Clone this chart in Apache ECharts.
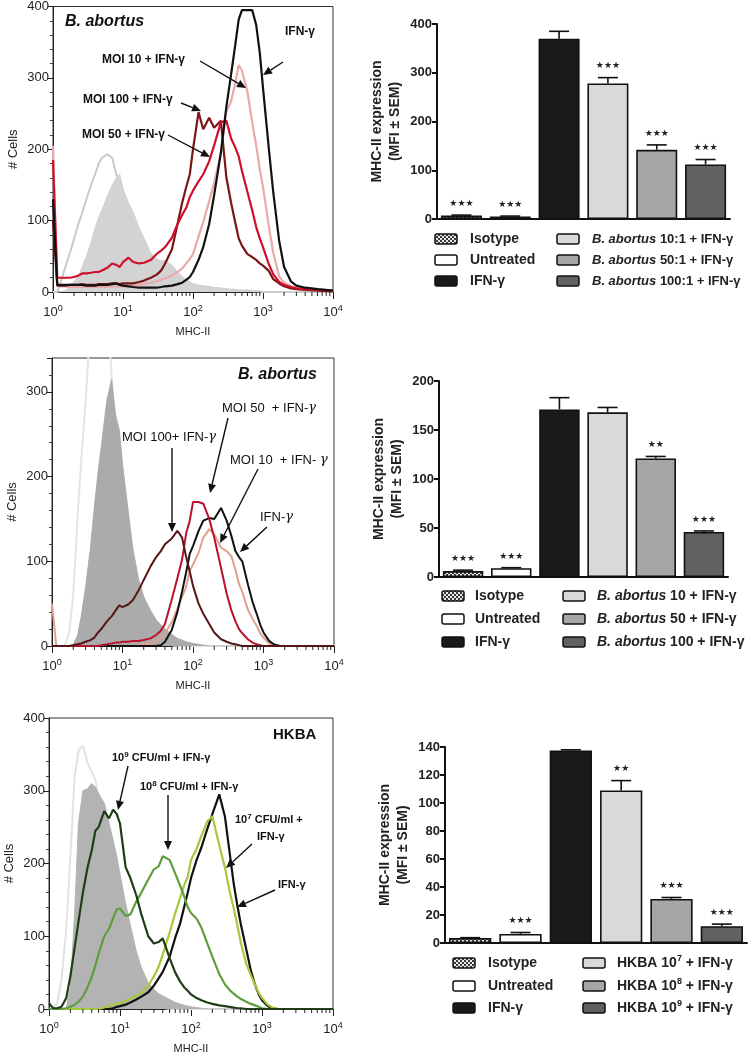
<!DOCTYPE html>
<html><head><meta charset="utf-8">
<script src="https://cdn.jsdelivr.net/npm/echarts@6/dist/echarts.min.js"></script>
<style>html,body{margin:0;padding:0;background:#fff}#c{width:750px;height:1055px}</style>
</head><body><div id="c"></div>
<script>
// ---------- Histogram data (MHC-II channel values, # cells) ----------
const X = [1,1.15,1.3,1.5,1.75,2,2.3,2.6,3,3.5,4,4.5,5,6,7,8,9,10,12,14,17,20,25,30,35,40,50,60,70,80,90,100,120,140,170,200,250,300,350,400,450,500,600,700,800,900,1000,1200,1400,1700,2000,2500,3000,4000,6000,10000];

// Panel 1 : B. abortus (MOI 10/50/100)
const h1Unst = [0,0,15,35,55,75,95,110,130,150,165,180,188,193,188,165,155,135,112,100,80,68,52,44,40,37,32,25,20,16,13,11,9,8,7,6,5,4,3,3,2,2,2,1,1,1,0,0,0,0,0,0,0,0,0,0];
const h1Iso  = [0,0,0,2,8,15,22,35,50,70,90,105,115,135,150,160,165,145,125,112,90,75,55,47,44,44,38,28,22,16,13,11,9,8,7,6,5,4,3,3,2,2,1,1,0,0,0,0,0,0,0,0,0,0,0,0];
const h1M10  = [205,10,8,8,7,7,7,7,7,7,7,7,7,7,8,8,8,8,8,9,10,11,13,15,17,19,23,28,33,40,46,53,78,98,127,152,195,253,267,292,318,310,280,238,205,172,147,95,55,22,13,8,6,5,4,2];
const h1M50  = [185,20,20,20,20,21,23,26,26,27,28,28,30,34,40,38,35,42,48,42,40,41,45,53,58,63,76,95,108,118,133,142,155,165,183,205,238,240,215,203,190,170,140,115,91,75,63,40,25,14,10,7,5,4,3,2];
const h1M100 = [100,9,9,9,10,10,10,11,10,10,10,11,11,11,12,12,11,12,12,12,14,16,20,24,30,40,60,95,125,147,165,200,252,228,244,230,240,160,125,98,75,65,53,49,45,40,37,30,18,12,8,5,4,3,2,1];
const h1Ifn  = [130,10,10,10,10,10,10,10,9,9,9,10,10,10,11,12,10,9,8,7,6,6,6,6,7,8,9,11,13,17,21,28,45,63,95,135,195,260,305,345,382,395,395,395,374,335,286,205,140,72,35,15,9,6,4,2];

// Panel 2 : B. abortus (MOI 10/50/100)
const h2Unst = [0,0,0,0,15,60,150,220,290,380,420,440,430,400,320,230,160,110,60,35,20,12,7,4,3,2,1,0,0,0,0,0,0,0,0,0,0,0,0,0,0,0,0,0,0,0,0,0,0,0,0,0,0,0,0,0];
const h2Iso  = [0,0,0,0,0,2,12,35,70,115,165,205,235,290,315,272,255,215,160,115,78,58,42,31,25,20,14,9,7,5,4,3,2,1,0,0,0,0,0,0,0,0,0,0,0,0,0,0,0,0,0,0,0,0,0,0];
const h2M10  = [50,0,0,0,0,0,0,0,0,0,0,0,0,0,0,0,0,0,0,0,1,2,3,6,9,15,28,44,58,70,89,96,110,128,138,132,116,112,106,90,73,64,43,32,24,15,10,3,1,0,0,0,0,0,0,0];
const h2M50  = [0,0,0,0,0,0,0,0,0,0,0,0,1,2,3,4,4,5,5,6,6,7,9,13,18,26,55,80,102,133,148,170,170,168,150,128,92,62,42,29,20,15,8,4,2,1,0,0,0,0,0,0,0,0,0,0];
const h2M100 = [0,0,0,0,0,1,2,3,5,7,10,16,20,29,35,42,48,46,49,54,66,78,94,105,112,120,127,136,128,105,88,71,50,38,26,16,8,5,3,2,1,0,0,0,0,0,0,0,0,0,0,0,0,0,0,0];
const h2Ifn  = [0,0,0,0,0,0,0,0,0,0,0,0,0,0,0,0,0,0,0,0,0,0,0,0,1,5,19,40,64,87,109,118,136,148,151,150,163,148,130,112,105,100,73,52,38,25,16,6,2,0,0,0,0,0,0,0];

// Panel 3 : HKBA (10^7/10^8/10^9 CFU/ml)
const h3Unst = [0,1,8,40,110,210,320,355,362,338,326,315,290,250,210,170,140,120,80,50,30,18,10,5,3,2,0,0,0,0,0,0,0,0,0,0,0,0,0,0,0,0,0,0,0,0,0,0,0,0,0,0,0,0,0,0];
const h3Iso  = [0,0,0,0,1,30,133,255,300,303,310,305,296,283,256,232,210,185,145,115,79,57,36,27,21,18,13,9,7,5,4,3,2,1,0,0,0,0,0,0,0,0,0,0,0,0,0,0,0,0,0,0,0,0,0,0];
const h3M7   = [0,0,0,0,0,0,0,0,0,0,0,0,0,2,4,6,7,8,11,14,18,22,32,45,58,75,105,132,152,170,182,205,220,238,258,265,225,195,162,138,115,92,62,46,33,22,15,6,2,0,0,0,0,0,0,0];
const h3M8   = [0,0,0,0,1,3,6,10,17,30,44,60,76,100,110,125,137,138,128,130,148,160,178,192,196,210,205,186,170,155,140,132,124,112,90,72,48,34,26,21,17,14,10,7,5,3,1,0,0,0,0,0,0,0,0,0];
const h3M9   = [8,1,1,3,15,45,85,120,160,195,218,245,250,272,262,274,268,255,195,180,156,130,100,90,92,97,70,50,38,30,25,20,15,12,9,7,5,4,3,2,1,1,0,0,0,0,0,0,0,0,0,0,0,0,0,0];
const h3Ifn  = [0,0,0,0,0,0,0,0,0,0,0,0,0,0,0,1,3,4,6,9,13,17,23,32,42,51,72,98,117,140,160,180,205,222,248,268,295,265,215,172,142,118,82,52,33,20,12,4,1,0,0,0,0,0,0,0];

// ---------- Bar chart data (MFI ± SEM) ----------
const barCats = ['Isotype','Untreated','IFN-γ','Low','Mid','High'];
const bar1Vals  = [7,5,370,278,142,112];
const bar1Err   = [1,1,15,12,10,10];
const bar1Stars = ['***','***','','***','***','***'];
const bar2Vals  = [6,9,171,168,121,46];
const bar2Err   = [1,0.5,12,5,2,1];
const bar2Stars = ['***','***','','','**','***'];
const bar3Vals  = [3.5,6.5,137.5,109,31.5,12];
const bar3Err   = [0.3,1,0.5,7,1,1.5];
const bar3Stars = ['','***','','**','***','***'];

const bar1Legend = ['Isotype','Untreated','IFN-γ','{i|B. abortus} 10:1 + IFN-γ','{i|B. abortus} 50:1 + IFN-γ','{i|B. abortus} 100:1 + IFN-γ'];
const bar2Legend = ['Isotype','Untreated','IFN-γ','{i|B. abortus} 10 + IFN-γ','{i|B. abortus} 50 + IFN-γ','{i|B. abortus} 100 + IFN-γ'];
const bar3Legend = ['Isotype','Untreated','IFN-γ','HKBA 10{s|7} + IFN-γ','HKBA 10{s|8} + IFN-γ','HKBA 10{s|9} + IFN-γ'];

const histYTicks = [100, 100, 100];   // major tick interval per histogram
const histYMax   = [400, 340, 400];
const barYMax    = [400, 200, 140];
const barYStep   = [100, 50, 20];
const decades    = [1, 10, 100, 1000];

// ---------- styling ----------
const FONT = 'Liberation Sans, Arial, sans-serif';
function makePattern(){
  const c=document.createElement('canvas'); c.width=4; c.height=4;
  const g=c.getContext('2d'); g.fillStyle='#e6e6e6'; g.fillRect(0,0,4,4);
  g.fillStyle='#3a3a3a'; g.fillRect(0,0,2,2); g.fillRect(2,2,2,2);
  return c;
}
const pat = {image: makePattern(), repeat: 'repeat'};
const barColors = [pat,'#ffffff','#1a1a1a','#d9d9d9','#a6a6a6','#616161'];

const histGrids = [
  {left:53, top:5, width:280, height:287},
  {left:52, top:358, width:282, height:288},
  {left:49, top:718, width:284, height:293}
];
const barGrids = [
  {left:437, top:24, width:293, height:195},
  {left:439, top:381, width:289, height:196},
  {left:445, top:747, width:302, height:196}
];

const grid=[], xAxis=[], yAxis=[], series=[];
histGrids.forEach((g,i)=>{
  grid.push(Object.assign({show:true, borderColor:'#333', borderWidth:1, backgroundColor:'transparent'}, g));
  xAxis.push({type:'log', logBase:10, gridIndex:i, min:1, max:10000,
    axisLine:{show:true, onZero:false, lineStyle:{color:'#222', width:1}},
    axisTick:{show:true, length:7, lineStyle:{color:'#222'}},
    splitLine:{show:false},
    axisLabel:{margin:12, color:'#222', fontFamily:FONT,
      formatter:v=>'{b|10}{s|'+Math.round(Math.log10(v))+'}',
      rich:{b:{fontSize:13, fontFamily:FONT, color:'#222'}, s:{fontSize:9, fontFamily:FONT, color:'#222', padding:[0,0,8,0]}}},
    name:'MHC-II', nameLocation:'middle', nameGap:34,
    nameTextStyle:{fontSize:11, fontFamily:FONT, color:'#222'}});
  yAxis.push({type:'value', gridIndex:i, min:0, max:histYMax[i], interval:histYTicks[i],
    axisLine:{show:true, lineStyle:{color:'#222'}},
    axisTick:{show:true, length:5, lineStyle:{color:'#222'}},
    minorTick:{show:true, splitNumber:5, length:3, lineStyle:{color:'#444'}},
    splitLine:{show:false},
    axisLabel:{fontSize:13, fontFamily:FONT, color:'#222', margin:4, showMaxLabel: histYMax[i]%100===0},
    name:'# Cells', nameLocation:'middle', nameRotate:90, nameGap:33,
    nameTextStyle:{fontSize:13, fontFamily:FONT, color:'#222'}});
});
barGrids.forEach((g,j)=>{
  const i=j+3;
  grid.push(Object.assign({show:false}, g));
  xAxis.push({type:'category', gridIndex:i, data:barCats,
    axisLine:{show:true, lineStyle:{color:'#111', width:2}},
    axisTick:{show:false}, axisLabel:{show:false}});
  yAxis.push({type:'value', gridIndex:i, min:0, max:barYMax[j], interval:barYStep[j],
    axisLine:{show:true, lineStyle:{color:'#111', width:2}},
    axisTick:{show:true, length:5, lineStyle:{color:'#111', width:2}},
    splitLine:{show:false},
    axisLabel:{fontSize:13, fontWeight:'bold', fontFamily:FONT, color:'#222', margin:5},
    name:'MHC-II expression\n(MFI ± SEM)', nameLocation:'middle', nameRotate:90, nameGap:33,
    nameTextStyle:{fontSize:14, fontWeight:'bold', fontFamily:FONT, color:'#222', lineHeight:18}});
});

function line(idx, arr, color, width, z, fill){
  const s = {type:'line', xAxisIndex:idx, yAxisIndex:idx, symbol:'none', z:z,
    data:X.map((x,k)=>[x, arr[k]]),
    lineStyle:{color:color, width:width}, animation:false};
  if(fill) s.areaStyle = {color:fill, opacity:1};
  return s;
}
// panel 1
series.push(line(0,h1Unst,'#c9c9c9',2,2));
series.push(line(0,h1Iso,'#d3d3d3',1,3,'#d3d3d3'));
series.push(line(0,h1M10,'#eaa9aa',2.2,4));
series.push(line(0,h1M100,'#7d1518',2.2,5));
series.push(line(0,h1M50,'#d0102a',2.2,6));
series.push(line(0,h1Ifn,'#111111',2.2,7));
// panel 2
series.push(line(1,h2Unst,'#e4e4e4',2,2));
series.push(line(1,h2Iso,'#ababab',1,3,'#ababab'));
series.push(line(1,h2M10,'#e2a08e',2,4));
series.push(line(1,h2Ifn,'#111111',2,5));
series.push(line(1,h2M50,'#b8122c',2,6));
series.push(line(1,h2M100,'#561616',2,7));
// panel 3
series.push(line(2,h3Unst,'#e2e2e2',2,2));
series.push(line(2,h3Iso,'#b3b3b3',1,3,'#b3b3b3'));
series.push(line(2,h3Ifn,'#111111',2.2,4));
series.push(line(2,h3M7,'#a6c83c',2.2,5));
series.push(line(2,h3M8,'#5f9e3c',2.2,6));
series.push(line(2,h3M9,'#203d18',2.2,7));

// log minor ticks on histogram x axes
const minorVals=[]; decades.forEach(d=>{for(let k=2;k<=9;k++) minorVals.push(d*k);});
[0,1,2].forEach(i=>{
  series.push({type:'custom', xAxisIndex:i, yAxisIndex:i, clip:false, z:10, animation:false,
    data:minorVals.map(v=>[v,0]),
    renderItem:(params,api)=>{
      const p=api.coord([api.value(0),0]);
      return {type:'line', shape:{x1:p[0],y1:p[1],x2:p[0],y2:p[1]+4}, style:{stroke:'#222', lineWidth:1}};
    }});
});

// bars + error bars + stars
[[bar1Vals,bar1Err,bar1Stars],[bar2Vals,bar2Err,bar2Stars],[bar3Vals,bar3Err,bar3Stars]].forEach((b,j)=>{
  const i=j+3;
  series.push({type:'bar', xAxisIndex:i, yAxisIndex:i, barWidth:'84%', z:3, animation:false,
    data:b[0].map((v,k)=>({value:v, itemStyle:{color:barColors[k], borderColor:'#111', borderWidth:1.6}}))});
  series.push({type:'custom', xAxisIndex:i, yAxisIndex:i, clip:false, z:5, animation:false,
    data:b[0].map((v,k)=>[k, v, b[1][k]]),
    renderItem:(params,api)=>{
      const k=api.value(0), v=api.value(1), e=api.value(2);
      const base=api.coord([k,v]), top=api.coord([k,v+e]);
      const ch=[
        {type:'line', shape:{x1:top[0],y1:base[1],x2:top[0],y2:top[1]}, style:{stroke:'#111',lineWidth:1.6}},
        {type:'line', shape:{x1:top[0]-10,y1:top[1],x2:top[0]+10,y2:top[1]}, style:{stroke:'#111',lineWidth:1.6}}
      ];
      const st=b[2][params.dataIndex];
      if(st) ch.push({type:'text', style:{text:st.replace(/\*/g,'★'), x:top[0], y:top[1]-7,
        textAlign:'center', textVerticalAlign:'bottom', align:'center', verticalAlign:'bottom',
        font:'9px DejaVu Sans', fill:'#222'}});
      return {type:'group', children:ch};
    }});
});

// ---------- annotations ----------
const graphic=[];
function txt(x,y,t,opt){
  graphic.push({type:'text', x:x, y:y, style:Object.assign({text:t, fill:'#111', font:'bold 12px '+FONT,
    textVerticalAlign:'middle', verticalAlign:'middle'}, opt||{})});
}
function rtxt(x,y,t,rich,base){
  graphic.push({type:'text', x:x, y:y, style:Object.assign({text:t, rich:rich, fill:'#111',
    textVerticalAlign:'middle', verticalAlign:'middle'}, base)});
}
function arrow(x1,y1,x2,y2){
  const a=Math.atan2(y2-y1,x2-x1), L=9, W=4;
  const bx=x2-L*Math.cos(a), by=y2-L*Math.sin(a), px=-Math.sin(a)*W, py=Math.cos(a)*W;
  graphic.push({type:'line', shape:{x1:x1,y1:y1,x2:bx,y2:by}, style:{stroke:'#111', lineWidth:1.4}, z:100});
  graphic.push({type:'polygon', shape:{points:[[x2,y2],[bx+px,by+py],[bx-px,by-py]]}, style:{fill:'#111'}, z:100});
}
// panel 1
txt(65,22,'B. abortus',{font:'italic bold 16px '+FONT});
txt(285,32,'IFN-γ');  arrow(283,62,263,75);
txt(102,60,'MOI 10 + IFN-γ'); arrow(200,61,246,88);
txt(83,100,'MOI 100 + IFN-γ'); arrow(181,103,201,111);
txt(82,135,'MOI 50 + IFN-γ'); arrow(168,135,210,157);
// panel 2
const r2 = {n:{font:'13px '+FONT, fill:'#111'}, g:{font:'italic 13px DejaVu Serif', fill:'#111'}};
txt(317,375,'B. abortus',{font:'italic bold 16px '+FONT, textAlign:'right', align:'right'});
rtxt(222,408,'{n|MOI 50  + IFN-}{g|γ}',r2,{}); arrow(228,418,210,493);
rtxt(122,437,'{n|MOI 100+ IFN-}{g|γ}',r2,{}); arrow(172,448,172,532);
rtxt(230,460,'{n|MOI 10  + IFN- }{g|γ}',r2,{}); arrow(258,469,220,543);
rtxt(260,517,'{n|IFN-}{g|γ}',r2,{}); arrow(267,527,240,552);
// panel 3
const r3 = {n:{font:'bold 11px '+FONT, fill:'#111'}, s:{font:'bold 8px '+FONT, fill:'#111', padding:[0,0,6,0]}};
txt(273,735,'HKBA',{font:'bold 15px '+FONT});
rtxt(112,758,'{n|10}{s|9}{n| CFU/ml + IFN-γ}',r3,{}); arrow(128,766,118,810);
rtxt(140,787,'{n|10}{s|8}{n| CFU/ml + IFN-γ}',r3,{}); arrow(168,795,168,850);
rtxt(235,820,'{n|10}{s|7}{n| CFU/ml +}',r3,{});
txt(257,837,'IFN-γ',{font:'bold 11px '+FONT}); arrow(252,844,226,868);
txt(278,885,'IFN-γ',{font:'bold 11px '+FONT}); arrow(275,890,237,907);

// legends for bar charts
const legendCfg = [
  {labels:bar1Legend, rows:[239,260,281], lx:435, ltx:470, rx:557, rtx:592, rfs:13},
  {labels:bar2Legend, rows:[596,619,642], lx:442, ltx:475, rx:563, rtx:597, rfs:14},
  {labels:bar3Legend, rows:[963,986,1008], lx:453, ltx:488, rx:583, rtx:617, rfs:14}
];
legendCfg.forEach(c=>{
  c.labels.forEach((lab,k)=>{
    const col = k<3?0:1, row=k%3;
    const sx = col? c.rx : c.lx, tx = col? c.rtx : c.ltx, y=c.rows[row];
    const fs = col? c.rfs : 14;
    const lrich = {i:{font:'italic bold '+fs+'px '+FONT, fill:'#222'}, s:{font:'bold 9px '+FONT, fill:'#222', padding:[0,0,9,0]}};
    graphic.push({type:'rect', shape:{x:sx, y:y-5, width:22, height:10, r:2},
      style:{fill:barColors[k], stroke:'#111', lineWidth:1.5}});
    graphic.push({type:'text', x:tx, y:y, style:{text:lab, rich:lrich, font:'bold '+fs+'px '+FONT, fill:'#222',
      textVerticalAlign:'middle', verticalAlign:'middle'}});
  });
});

const chart = echarts.init(document.getElementById('c'), null, {renderer:'canvas'});
chart.setOption({animation:false, backgroundColor:'#fff', textStyle:{fontFamily:FONT},
  grid:grid, xAxis:xAxis, yAxis:yAxis, series:series, graphic:graphic});
</script></body></html>
